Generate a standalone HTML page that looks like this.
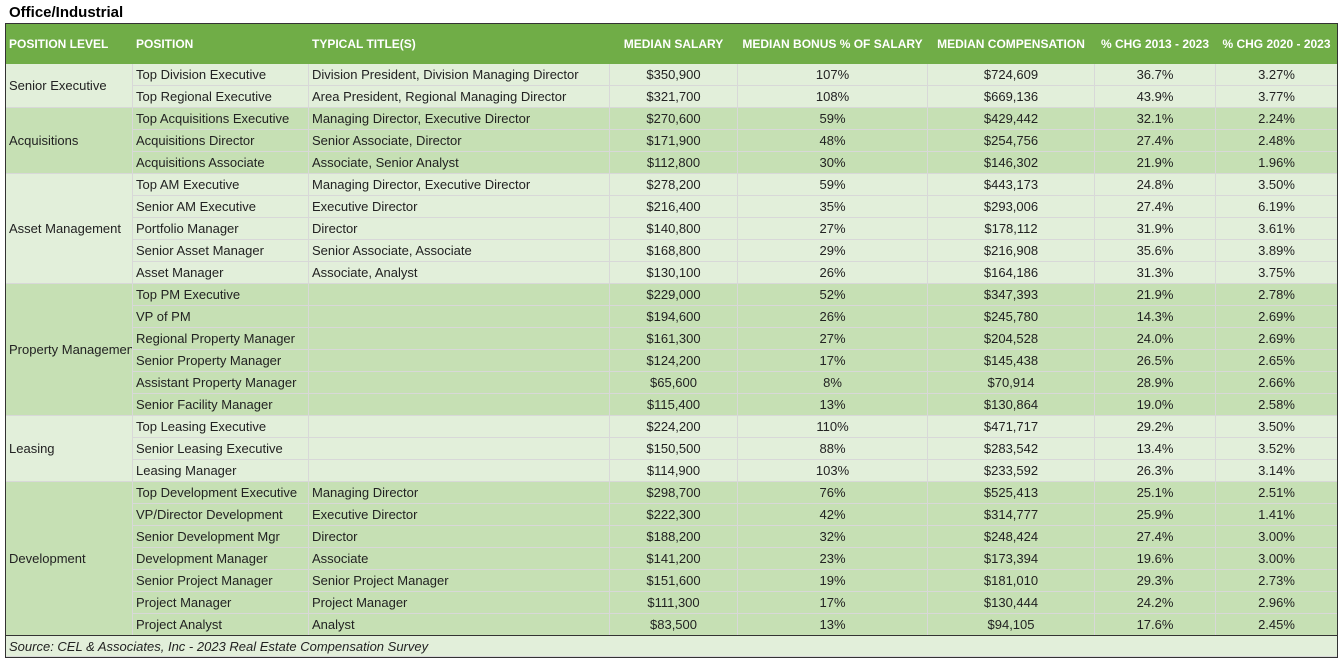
<!DOCTYPE html>
<html><head><style>
body{margin:0;width:1339px;height:659px;background:#fff;font-family:"Liberation Sans",sans-serif;position:relative;overflow:hidden}
.t{position:absolute;left:9px;top:4px;font-weight:bold;font-size:15px;color:#000}
.box{position:absolute;left:5px;top:23px;width:1331px;height:633px;border:1px solid #333;pointer-events:none}
.ln{position:absolute;left:5px;top:635px;width:1332px;height:1px;background:#333}
table{position:absolute;left:5px;top:23px;border-collapse:collapse;table-layout:fixed;width:1332px;font-size:13px;color:#222}
td,th{padding:0 3px;white-space:nowrap;overflow:hidden;border:1px solid #d8d8d8}
th{background:#70ad47;color:#fff;font-size:12px;height:39px;text-align:left;border-color:#70ad47}
th.c{text-align:center}
td{height:21px}
.L td{background:#e2efda}
.D td{background:#c6e0b4}
td.n{text-align:center}
.src td{background:#e2efda;font-style:italic;height:20px}
</style></head><body>
<div class="t">Office/Industrial</div>
<table>
<colgroup><col style="width:127px"><col style="width:176px"><col style="width:301px"><col style="width:128px"><col style="width:190px"><col style="width:167px"><col style="width:121px"><col style="width:122px"></colgroup>
<tr><th>POSITION LEVEL</th><th>POSITION</th><th>TYPICAL TITLE(S)</th><th class="c">MEDIAN SALARY</th><th class="c">MEDIAN BONUS % OF SALARY</th><th class="c">MEDIAN COMPENSATION</th><th class="c">% CHG 2013 - 2023</th><th class="c">% CHG 2020 - 2023</th></tr>
<tr class="L"><td rowspan="2">Senior Executive</td><td>Top Division Executive</td><td>Division President, Division Managing Director</td><td class="n">$350,900</td><td class="n">107%</td><td class="n">$724,609</td><td class="n">36.7%</td><td class="n">3.27%</td></tr>
<tr class="L"><td>Top Regional Executive</td><td>Area President, Regional Managing Director</td><td class="n">$321,700</td><td class="n">108%</td><td class="n">$669,136</td><td class="n">43.9%</td><td class="n">3.77%</td></tr>
<tr class="D"><td rowspan="3">Acquisitions</td><td>Top Acquisitions Executive</td><td>Managing Director, Executive Director</td><td class="n">$270,600</td><td class="n">59%</td><td class="n">$429,442</td><td class="n">32.1%</td><td class="n">2.24%</td></tr>
<tr class="D"><td>Acquisitions Director</td><td>Senior Associate, Director</td><td class="n">$171,900</td><td class="n">48%</td><td class="n">$254,756</td><td class="n">27.4%</td><td class="n">2.48%</td></tr>
<tr class="D"><td>Acquisitions Associate</td><td>Associate, Senior Analyst</td><td class="n">$112,800</td><td class="n">30%</td><td class="n">$146,302</td><td class="n">21.9%</td><td class="n">1.96%</td></tr>
<tr class="L"><td rowspan="5">Asset Management</td><td>Top AM Executive</td><td>Managing Director, Executive Director</td><td class="n">$278,200</td><td class="n">59%</td><td class="n">$443,173</td><td class="n">24.8%</td><td class="n">3.50%</td></tr>
<tr class="L"><td>Senior AM Executive</td><td>Executive Director</td><td class="n">$216,400</td><td class="n">35%</td><td class="n">$293,006</td><td class="n">27.4%</td><td class="n">6.19%</td></tr>
<tr class="L"><td>Portfolio Manager</td><td>Director</td><td class="n">$140,800</td><td class="n">27%</td><td class="n">$178,112</td><td class="n">31.9%</td><td class="n">3.61%</td></tr>
<tr class="L"><td>Senior Asset Manager</td><td>Senior Associate, Associate</td><td class="n">$168,800</td><td class="n">29%</td><td class="n">$216,908</td><td class="n">35.6%</td><td class="n">3.89%</td></tr>
<tr class="L"><td>Asset Manager</td><td>Associate, Analyst</td><td class="n">$130,100</td><td class="n">26%</td><td class="n">$164,186</td><td class="n">31.3%</td><td class="n">3.75%</td></tr>
<tr class="D"><td rowspan="6">Property Management</td><td>Top PM Executive</td><td></td><td class="n">$229,000</td><td class="n">52%</td><td class="n">$347,393</td><td class="n">21.9%</td><td class="n">2.78%</td></tr>
<tr class="D"><td>VP of PM</td><td></td><td class="n">$194,600</td><td class="n">26%</td><td class="n">$245,780</td><td class="n">14.3%</td><td class="n">2.69%</td></tr>
<tr class="D"><td>Regional Property Manager</td><td></td><td class="n">$161,300</td><td class="n">27%</td><td class="n">$204,528</td><td class="n">24.0%</td><td class="n">2.69%</td></tr>
<tr class="D"><td>Senior Property Manager</td><td></td><td class="n">$124,200</td><td class="n">17%</td><td class="n">$145,438</td><td class="n">26.5%</td><td class="n">2.65%</td></tr>
<tr class="D"><td>Assistant Property Manager</td><td></td><td class="n">$65,600</td><td class="n">8%</td><td class="n">$70,914</td><td class="n">28.9%</td><td class="n">2.66%</td></tr>
<tr class="D"><td>Senior Facility Manager</td><td></td><td class="n">$115,400</td><td class="n">13%</td><td class="n">$130,864</td><td class="n">19.0%</td><td class="n">2.58%</td></tr>
<tr class="L"><td rowspan="3">Leasing</td><td>Top Leasing Executive</td><td></td><td class="n">$224,200</td><td class="n">110%</td><td class="n">$471,717</td><td class="n">29.2%</td><td class="n">3.50%</td></tr>
<tr class="L"><td>Senior Leasing Executive</td><td></td><td class="n">$150,500</td><td class="n">88%</td><td class="n">$283,542</td><td class="n">13.4%</td><td class="n">3.52%</td></tr>
<tr class="L"><td>Leasing Manager</td><td></td><td class="n">$114,900</td><td class="n">103%</td><td class="n">$233,592</td><td class="n">26.3%</td><td class="n">3.14%</td></tr>
<tr class="D"><td rowspan="7">Development</td><td>Top Development Executive</td><td>Managing Director</td><td class="n">$298,700</td><td class="n">76%</td><td class="n">$525,413</td><td class="n">25.1%</td><td class="n">2.51%</td></tr>
<tr class="D"><td>VP/Director Development</td><td>Executive Director</td><td class="n">$222,300</td><td class="n">42%</td><td class="n">$314,777</td><td class="n">25.9%</td><td class="n">1.41%</td></tr>
<tr class="D"><td>Senior Development Mgr</td><td>Director</td><td class="n">$188,200</td><td class="n">32%</td><td class="n">$248,424</td><td class="n">27.4%</td><td class="n">3.00%</td></tr>
<tr class="D"><td>Development Manager</td><td>Associate</td><td class="n">$141,200</td><td class="n">23%</td><td class="n">$173,394</td><td class="n">19.6%</td><td class="n">3.00%</td></tr>
<tr class="D"><td>Senior Project Manager</td><td>Senior Project Manager</td><td class="n">$151,600</td><td class="n">19%</td><td class="n">$181,010</td><td class="n">29.3%</td><td class="n">2.73%</td></tr>
<tr class="D"><td>Project Manager</td><td>Project Manager</td><td class="n">$111,300</td><td class="n">17%</td><td class="n">$130,444</td><td class="n">24.2%</td><td class="n">2.96%</td></tr>
<tr class="D"><td>Project Analyst</td><td>Analyst</td><td class="n">$83,500</td><td class="n">13%</td><td class="n">$94,105</td><td class="n">17.6%</td><td class="n">2.45%</td></tr>
<tr class="src"><td colspan="8">Source: CEL &amp; Associates, Inc - 2023 Real Estate Compensation Survey</td></tr>
</table>
<div class="box"></div>
<div class="ln"></div>
</body></html>
